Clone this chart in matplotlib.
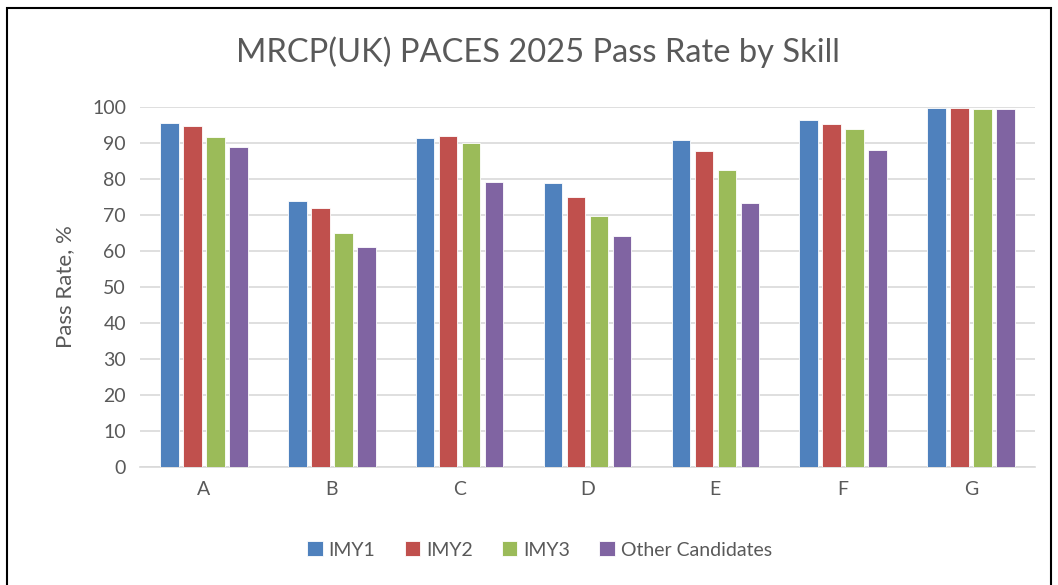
import numpy as np
import matplotlib.pyplot as plt
from matplotlib.patches import Rectangle

skills = ["A", "B", "C", "D", "E", "F", "G"]
imy1 = [95.5, 73.8, 91.5, 78.9, 90.8, 96.5, 99.7]
imy2 = [94.8, 71.9, 92.0, 74.9, 87.7, 95.2, 99.6]
imy3 = [91.8, 65.0, 89.9, 69.6, 82.5, 93.8, 99.4]
other = [89.0, 61.2, 79.3, 64.1, 73.4, 88.0, 99.5]
series_names = ["IMY1", "IMY2", "IMY3", "Other Candidates"]
colors = ["#4f81bd", "#c0504d", "#9bbb59", "#8064a2"]

plt.rcParams["font.family"] = ["Lato", "DejaVu Sans"]
text_color = "#595959"

fig = plt.figure(figsize=(10.58, 5.85), dpi=100)
ax = fig.add_axes([140 / 1058, 1 - 467 / 585, 895 / 1058, 360 / 585])

x = np.arange(len(skills))
step = 0.18
width = 0.145
for i, (vals, name) in enumerate(zip([imy1, imy2, imy3, other], series_names)):
    ax.bar(x + (i - 1.5) * step, vals, width, color=colors[i], label=name,
           edgecolor="white", linewidth=0.6, zorder=3)

ax.set_xlim(-0.5, len(skills) - 0.5)
ax.set_ylim(0, 100)
ax.set_yticks(range(0, 101, 10))
ax.set_xticks(x)
ax.set_xticklabels(skills)
ax.yaxis.grid(True, color="#d9d9d9", linewidth=1.2, zorder=0)
for s in ["top", "right", "left"]:
    ax.spines[s].set_visible(False)
ax.spines["bottom"].set_color("#d9d9d9")
ax.spines["bottom"].set_linewidth(1.2)
ax.tick_params(axis="both", length=0, labelsize=14, colors=text_color, pad=10)

ax.set_ylabel("Pass Rate, %", fontsize=16, color=text_color, labelpad=12)
fig.text(0.508, 0.91, "MRCP(UK) PACES 2025 Pass Rate by Skill", ha="center",
         va="center", fontsize=23.5, color=text_color)

fig.legend(loc="center", bbox_to_anchor=(0.51, 1 - 550 / 585), ncol=4,
           frameon=False, fontsize=14, labelcolor=text_color,
           handlelength=0.8, handleheight=0.8, handletextpad=0.3, columnspacing=1.5)

# chart frame (bottom edge runs off the picture)
fig.patches.append(Rectangle((7 / 1058, -0.05), 1044 / 1058, 1.05 - 8 / 585,
                             transform=fig.transFigure, fill=False,
                             edgecolor="black", linewidth=1.5))

fig.savefig("out.png", dpi=100)
